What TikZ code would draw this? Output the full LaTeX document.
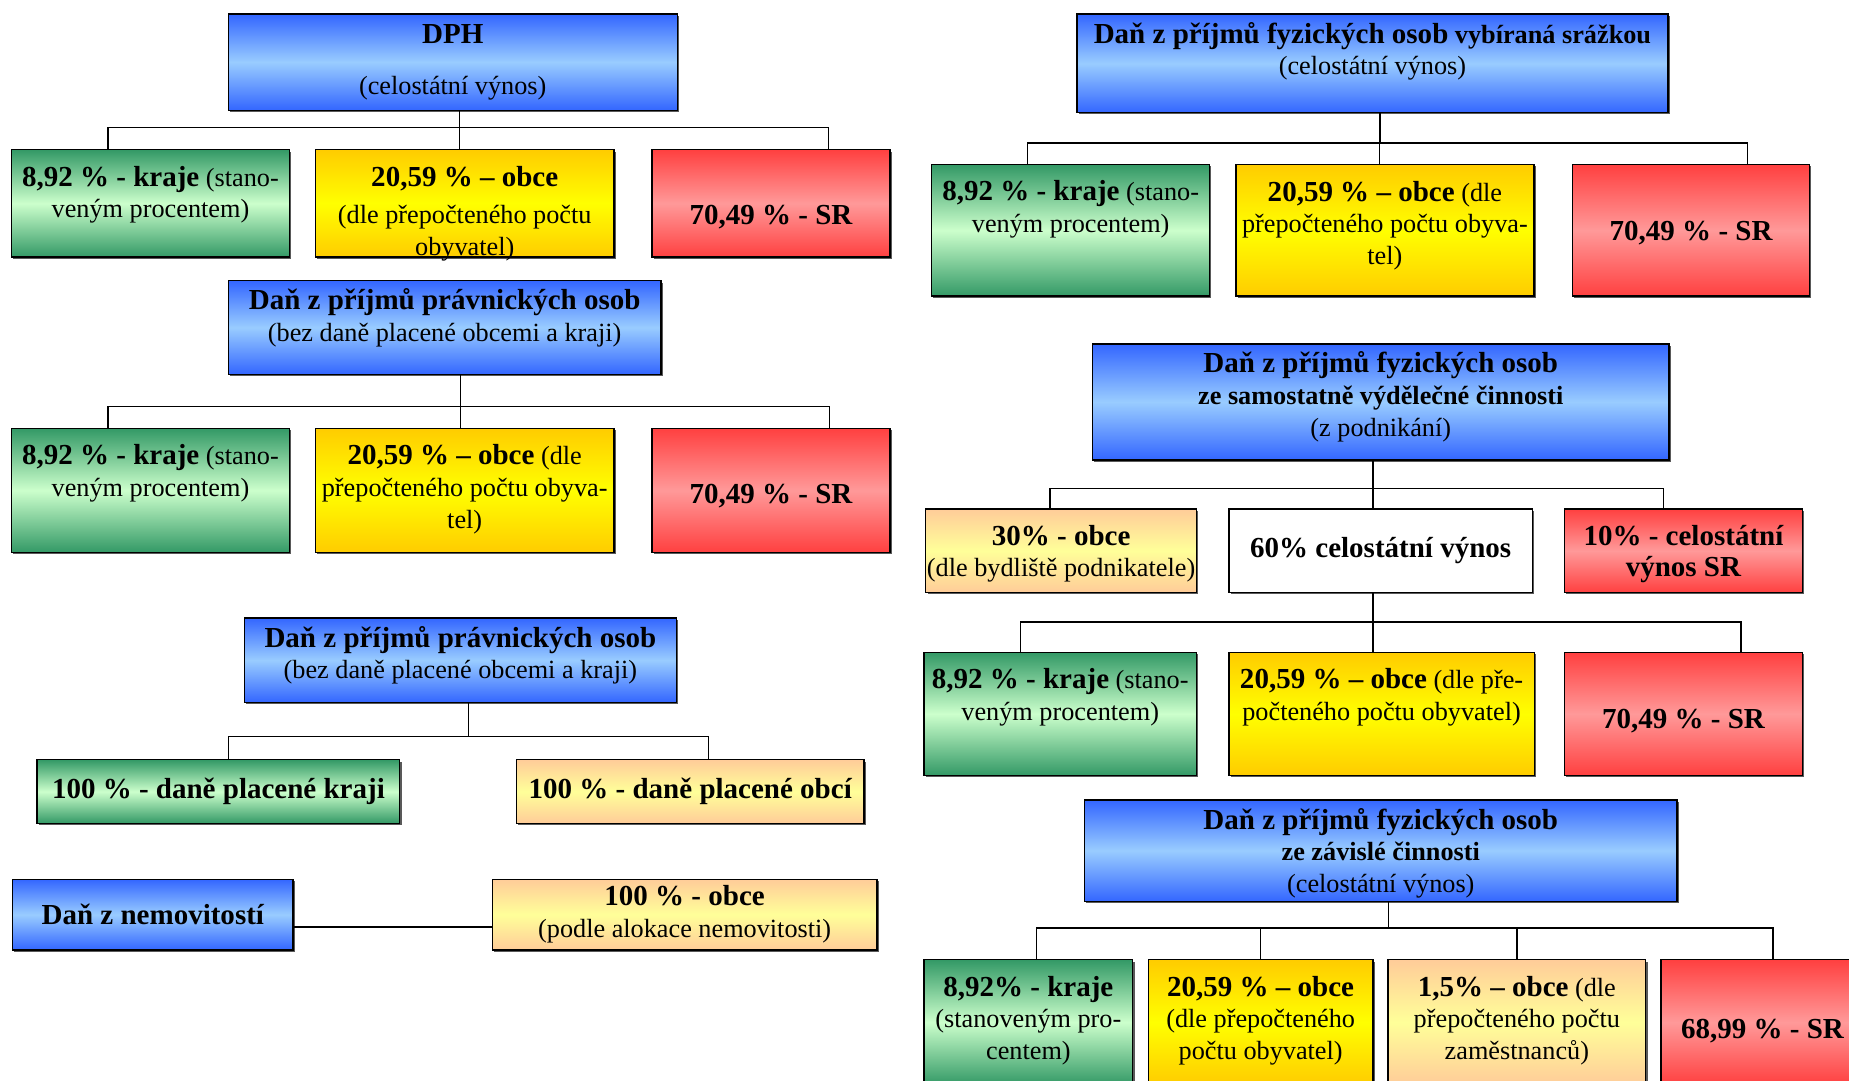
\documentclass[tikz,border=0pt]{standalone}
\usepackage{fontspec}
\setmainfont{Liberation Serif}
\usetikzlibrary{shadows}
\definecolor{dblue}{HTML}{3366FF}
\definecolor{lblue}{HTML}{99CCFF}
\definecolor{dgreen}{HTML}{339966}
\definecolor{lgreen}{HTML}{CCFFCC}
\definecolor{dyellow}{HTML}{FFCC00}
\definecolor{lyellow}{HTML}{FFFF00}
\definecolor{dred}{HTML}{FF4040}
\definecolor{lred}{HTML}{FF9999}
\definecolor{dpeach}{HTML}{FFCC99}
\definecolor{lpeach}{HTML}{FFFF99}
\newcommand{\hdtxt}[1]{{\fontsize{21}{23}\selectfont\bfseries #1}}
\tikzset{
  taxbox/.style={draw=black, line width=1pt, anchor=north west, align=center,
                 inner xsep=0.5pt, inner ysep=0pt, font=\fontsize{19}{23}\selectfont,
                 drop shadow={shadow xshift=1.3pt, shadow yshift=-1.3pt, fill=black!65, opacity=1}},
  bluebox/.style={taxbox, top color=dblue, bottom color=dblue, middle color=lblue},
  greenbox/.style={taxbox, top color=dgreen, bottom color=dgreen, middle color=lgreen},
  yellowbox/.style={taxbox, top color=dyellow, bottom color=dyellow, middle color=lyellow},
  redbox/.style={taxbox, top color=dred, bottom color=dred, middle color=lred},
  peachbox/.style={taxbox, top color=dpeach, bottom color=dpeach, middle color=lpeach},
  whitebox/.style={taxbox, fill=white},
  % text pushed to the top of the box: height down to last baseline, rest
  ttop/.style 2 args={text height=#1, text depth=#2},
  link/.style={draw=black, line width=1pt}}

\begin{document}
\begin{tikzpicture}[x=0.03cm, y=-0.03cm]
  \clip (0,0) rectangle (1568,916);
  % DPH
  \node[bluebox, ttop={20.4mm}{4.1mm}, minimum width=11.42cm, minimum height=2.45cm] (dph) at (193,11.3)
    {\hdtxt{DPH}\\[14pt](celostátní výnos)};
  \node[greenbox, ttop={17.31mm}{9.99mm}, minimum width=7.08cm, minimum height=2.73cm] (dph1) at (9,126.4)
    {\hdtxt{8,92 \% - kraje} (stano-\\veným procentem)};
  \node[yellowbox, ttop={26.84mm}{0.46mm}, minimum width=7.59cm, minimum height=2.73cm] (dph2) at (267,126.4)
    {\hdtxt{20,59 \% -- obce}\\[4pt](dle přepočteného počtu\\obyvatel)};
  \node[redbox, ttop={19.1mm}{8.2mm}, minimum width=6.05cm, minimum height=2.73cm] (dph3) at (552.4,126.4)
    {\hdtxt{70,49 \% - SR}};
  \draw[link] ([xshift=0.17cm]dph.south) -- ++(0,14) -| ([xshift=-1.08cm]dph1.north);
  \draw[link] ([xshift=0.17cm]dph.south) -- ++(0,14) -| ([xshift=-0.135cm]dph2.north);
  \draw[link] ([xshift=0.17cm]dph.south) -- ++(0,14) -| ([xshift=1.455cm]dph3.north);
  % dan z prijmu pravnickych osob
  \node[bluebox, ttop={15.46mm}{8.34mm}, minimum width=11.01cm, minimum height=2.38cm] (dppo) at (193,237.5)
    {\hdtxt{Daň z příjmů právnických osob}\\(bez daně placené obcemi a kraji)};
  \node[greenbox, ttop={17.31mm}{14.22mm}, minimum width=7.08cm, minimum height=3.15cm] (dppo1) at (9,362.7)
    {\hdtxt{8,92 \% - kraje} (stano-\\veným procentem)};
  \node[yellowbox, ttop={25.43mm}{6.1mm}, minimum width=7.59cm, minimum height=3.15cm] (dppo2) at (267,362.7)
    {\hdtxt{20,59 \% -- obce} (dle\\přepočteného počtu obyva-\\tel)};
  \node[redbox, ttop={19.1mm}{12.43mm}, minimum width=6.05cm, minimum height=3.15cm] (dppo3) at (552.4,362.7)
    {\hdtxt{70,49 \% - SR}};
  \draw[link] ([xshift=0.405cm]dppo.south) -- ++(0,26.6) -| ([xshift=-1.08cm]dppo1.north);
  \draw[link] ([xshift=0.405cm]dppo.south) -- ++(0,26.6) -| ([xshift=-0.105cm]dppo2.north);
  \draw[link] ([xshift=0.405cm]dppo.south) -- ++(0,26.6) -| ([xshift=1.485cm]dppo3.north);
  % dane placene obcemi a kraji
  \node[bluebox, ttop={15.46mm}{5.99mm}, minimum width=11.0cm, minimum height=2.145cm] (obkr) at (206.5,523.5)
    {\hdtxt{Daň z příjmů právnických osob}\\(bez daně placené obcemi a kraji)};
  \node[greenbox, minimum width=9.225cm, minimum height=1.62cm] (obkr1) at (30.9,643.7)
    {\hdtxt{100 \% - daně placené kraji}};
  \node[peachbox, minimum width=8.84cm, minimum height=1.62cm] (obkr2) at (437.4,643.7)
    {\hdtxt{100 \% - daně placené obcí}};
  \draw[link] ([xshift=0.2cm]obkr.south) -- ++(0,28.3) -| ([xshift=0.25cm]obkr1.north);
  \draw[link] ([xshift=0.2cm]obkr.south) -- ++(0,28.3) -| ([xshift=0.465cm]obkr2.north);
  % dan z nemovitosti
  \node[bluebox, minimum width=7.14cm, minimum height=1.8cm] (nem) at (10,745)
    {\hdtxt{Daň z nemovitostí}};
  \node[peachbox, minimum width=9.78cm, minimum height=1.8cm] (nem1) at (417,745)
    {\hdtxt{100 \% - obce}\\(podle alokace nemovitosti)};
  \draw[link] ([yshift=-0.32cm]nem.east) -- ([yshift=-0.32cm]nem1.west);
  % srazkova dan
  \node[bluebox, ttop={15.46mm}{9.64mm}, minimum width=15.04cm, minimum height=2.51cm] (srz) at (912.6,11.3)
    {\hdtxt{Daň z příjmů fyzických osob} \textbf{vybíraná srážkou}\\(celostátní výnos)};
  \node[greenbox, ttop={17.31mm}{16.14mm}, minimum width=7.07cm, minimum height=3.345cm] (srz1) at (789.5,139)
    {\hdtxt{8,92 \% - kraje} (stano-\\veným procentem)};
  \node[yellowbox, ttop={25.43mm}{8.02mm}, minimum width=7.58cm, minimum height=3.345cm] (srz2) at (1047.5,139)
    {\hdtxt{20,59 \% -- obce} (dle\\přepočteného počtu obyva-\\tel)};
  \node[redbox, ttop={19.2mm}{14.25mm}, minimum width=6.03cm, minimum height=3.345cm] (srz3) at (1333,139)
    {\hdtxt{70,49 \% - SR}};
  \draw[link] ([xshift=0.19cm]srz.south) -- ++(0,25) -| ([xshift=-1.09cm]srz1.north);
  \draw[link] ([xshift=0.19cm]srz.south) -- ++(0,25) -| ([xshift=-0.13cm]srz2.north);
  \draw[link] ([xshift=0.19cm]srz.south) -- ++(0,25) -| ([xshift=1.44cm]srz3.north);
  % samostatna vydelecna cinnost
  \node[bluebox, ttop={23.58mm}{5.97mm}, minimum width=14.66cm, minimum height=2.955cm] (svc) at (926,291)
    {\hdtxt{Daň z příjmů fyzických osob}\\\textbf{ze samostatně výdělečné činnosti}\\(z podnikání)};
  \node[peachbox, ttop={17.31mm}{3.99mm}, minimum width=6.885cm, minimum height=2.13cm] (svc1) at (784.5,431)
    {\hdtxt{30\% - obce}\\(dle bydliště podnikatele)};
  \node[whitebox, minimum width=7.725cm, minimum height=2.13cm] (svc2) at (1041.5,431)
    {\hdtxt{60\% celostátní výnos}};
  \node[redbox, ttop={17.31mm}{3.99mm}, minimum width=6.06cm, minimum height=2.13cm] (svc3) at (1326,431)
    {\hdtxt{10\% - celostátní}\\\hdtxt{výnos SR}};
  \draw[link] ([xshift=-0.2cm]svc.south) -- ++(0,23.5) -| ([xshift=-0.28cm]svc1.north);
  \draw[link] ([xshift=-0.2cm]svc.south) -- ++(0,23.5) -| ([xshift=-0.2cm]svc2.north);
  \draw[link] ([xshift=-0.2cm]svc.south) -- ++(0,23.5) -| ([xshift=-0.51cm]svc3.north);
  \node[greenbox, ttop={17.31mm}{14.01mm}, minimum width=6.93cm, minimum height=3.13cm] (cv1) at (783,552.6)
    {\hdtxt{8,92 \% - kraje} (stano-\\veným procentem)};
  \node[yellowbox, ttop={17.31mm}{14.01mm}, minimum width=7.77cm, minimum height=3.13cm] (cv2) at (1041.5,552.6)
    {\hdtxt{20,59 \% -- obce} (dle pře-\\počteného počtu obyvatel)};
  \node[redbox, ttop={19.3mm}{12.02mm}, minimum width=6.06cm, minimum height=3.13cm] (cv3) at (1326,552.6)
    {\hdtxt{70,49 \% - SR}};
  \draw[link] ([xshift=-0.2cm]svc2.south) -- ++(0,24.4) -| ([xshift=-1.01cm]cv1.north);
  \draw[link] ([xshift=-0.2cm]svc2.south) -- ++(0,24.4) -| ([xshift=-0.22cm]cv2.north);
  \draw[link] ([xshift=-0.2cm]svc2.south) -- ++(0,24.4) -| ([xshift=1.46cm]cv3.north);
  % zavisla cinnost
  \node[bluebox, ttop={23.58mm}{2.22mm}, minimum width=15.08cm, minimum height=2.58cm] (zc) at (919,677.8)
    {\hdtxt{Daň z příjmů fyzických osob}\\\textbf{ze závislé činnosti}\\(celostátní výnos)};
  \node[greenbox, ttop={25.43mm}{6.37mm}, minimum width=5.31cm, minimum height=3.18cm] (zc1) at (783,813.3)
    {\hdtxt{8,92\% - kraje}\\(stanoveným pro-\\centem)};
  \node[yellowbox, ttop={25.43mm}{6.37mm}, minimum width=5.71cm, minimum height=3.18cm] (zc2) at (973.3,813.3)
    {\hdtxt{20,59 \% -- obce}\\(dle přepočteného\\počtu obyvatel)};
  \node[peachbox, ttop={25.43mm}{6.37mm}, minimum width=6.56cm, minimum height=3.18cm] (zc3) at (1176.4,813.3)
    {\hdtxt{1,5\% -- obce} (dle\\přepočteného počtu\\zaměstnanců)};
  \node[redbox, ttop={20mm}{11.8mm}, minimum width=5.16cm, minimum height=3.18cm] (zc4) at (1408,813.3)
    {\hdtxt{68,99 \% - SR}};
  \draw[link] ([xshift=0.2cm]zc.south) -- ++(0,22) -| ([xshift=0.21cm]zc1.north);
  \draw[link] ([xshift=0.2cm]zc.south) -- ++(0,22) -| (zc2.north);
  \draw[link] ([xshift=0.2cm]zc.south) -- ++(0,22) -| (zc3.north);
  \draw[link] ([xshift=0.2cm]zc.south) -- ++(0,22) -| ([xshift=0.27cm]zc4.north);
\end{tikzpicture}
\end{document}
